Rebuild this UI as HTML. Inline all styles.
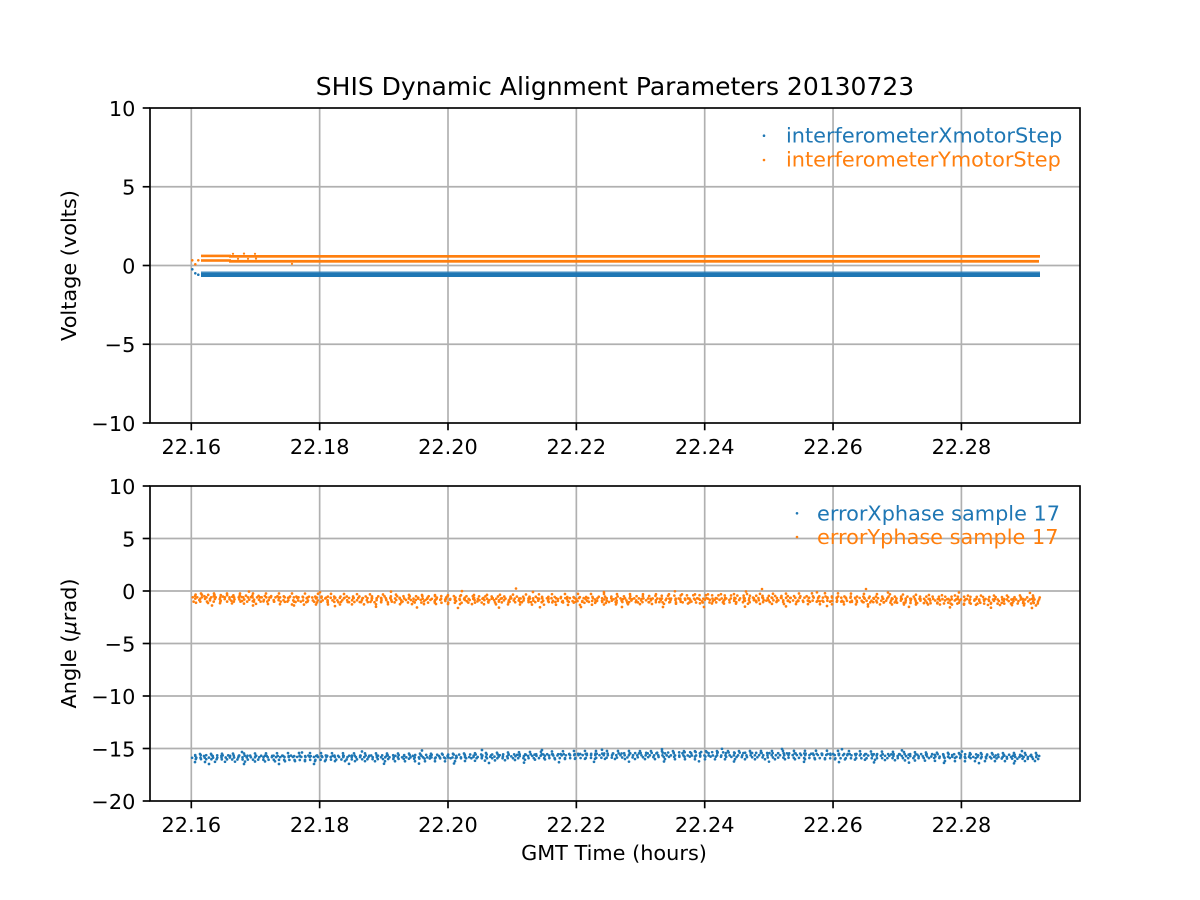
<!DOCTYPE html>
<html>
<head>
<meta charset="utf-8">
<style>
html,body{margin:0;padding:0;background:#fff;}
svg{display:block;}
text{font-family:"DejaVu Sans","Liberation Sans",sans-serif;}
</style>
</head>
<body>
<svg width="1200" height="900" viewBox="0 0 1200 900" xmlns="http://www.w3.org/2000/svg">
<rect width="1200" height="900" fill="#fff"/>

<!-- Title -->
<text x="615" y="95" font-size="25" text-anchor="middle" fill="#000">SHIS Dynamic Alignment Parameters 20130723</text>

<!-- ===== TOP AXES ===== -->
<g stroke="#b0b0b0" stroke-width="1.67">
  <line x1="191.3" y1="108" x2="191.3" y2="423"/>
  <line x1="319.65" y1="108" x2="319.65" y2="423"/>
  <line x1="448" y1="108" x2="448" y2="423"/>
  <line x1="576.35" y1="108" x2="576.35" y2="423"/>
  <line x1="704.7" y1="108" x2="704.7" y2="423"/>
  <line x1="833.05" y1="108" x2="833.05" y2="423"/>
  <line x1="961.4" y1="108" x2="961.4" y2="423"/>
  <line x1="150" y1="186.75" x2="1080" y2="186.75"/>
  <line x1="150" y1="265.5" x2="1080" y2="265.5"/>
  <line x1="150" y1="344.25" x2="1080" y2="344.25"/>
</g>

<!-- top data -->
<g fill="#ff7f0e">
  <circle cx="192.3" cy="260.3" r="1.3"/>
  <circle cx="195.3" cy="264.3" r="1.3"/>
  <circle cx="198.3" cy="260.3" r="1.3"/>
  <rect x="201" y="254.6" width="30" height="2.6"/>
  <rect x="229" y="255" width="811" height="2.7"/>
  <rect x="201" y="259.2" width="30" height="2.6"/>
  <rect x="229" y="259.9" width="810" height="2.8"/>
  <circle cx="233" cy="253.8" r="1.1"/>
  <circle cx="244" cy="253.6" r="1.1"/>
  <circle cx="255" cy="253.8" r="1.1"/>
  <circle cx="238" cy="258.8" r="1.1"/>
  <circle cx="248" cy="258.8" r="1.1"/>
  <circle cx="256" cy="258.6" r="1.1"/>
  <circle cx="292" cy="263.8" r="1.1"/>
</g>
<g fill="#1f77b4">
  <circle cx="192.3" cy="269.3" r="1.3"/>
  <circle cx="195.3" cy="273.3" r="1.3"/>
  <circle cx="198.3" cy="274.7" r="1.3"/>
  <rect x="201" y="272.4" width="839" height="4.6"/>
  <rect x="201" y="271.3" width="839" height="1.2" opacity="0.6"/>
</g>

<!-- top spines -->
<rect x="150" y="108" width="930" height="315" fill="none" stroke="#000" stroke-width="1.67"/>
<!-- top ticks -->
<g stroke="#000" stroke-width="1.67">
  <line x1="142.7" y1="108" x2="150" y2="108"/>
  <line x1="142.7" y1="186.75" x2="150" y2="186.75"/>
  <line x1="142.7" y1="265.5" x2="150" y2="265.5"/>
  <line x1="142.7" y1="344.25" x2="150" y2="344.25"/>
  <line x1="142.7" y1="423" x2="150" y2="423"/>
  <line x1="191.3" y1="423" x2="191.3" y2="430.3"/>
  <line x1="319.65" y1="423" x2="319.65" y2="430.3"/>
  <line x1="448" y1="423" x2="448" y2="430.3"/>
  <line x1="576.35" y1="423" x2="576.35" y2="430.3"/>
  <line x1="704.7" y1="423" x2="704.7" y2="430.3"/>
  <line x1="833.05" y1="423" x2="833.05" y2="430.3"/>
  <line x1="961.4" y1="423" x2="961.4" y2="430.3"/>
</g>
<g font-size="20.83" fill="#000" text-anchor="end">
  <text x="135.4" y="115.8">10</text>
  <text x="135.4" y="194.5">5</text>
  <text x="135.4" y="273.3">0</text>
  <text x="135.4" y="352">−5</text>
  <text x="135.4" y="430.8">−10</text>
</g>
<g font-size="20.83" fill="#000" text-anchor="middle">
  <text x="191.3" y="454">22.16</text>
  <text x="319.65" y="454">22.18</text>
  <text x="448" y="454">22.20</text>
  <text x="576.35" y="454">22.22</text>
  <text x="704.7" y="454">22.24</text>
  <text x="833.05" y="454">22.26</text>
  <text x="961.4" y="454">22.28</text>
</g>
<text transform="translate(76,265.5) rotate(-90)" font-size="20.83" text-anchor="middle" fill="#000">Voltage (volts)</text>

<!-- top legend -->
<circle cx="764" cy="135.7" r="1.3" fill="#1f77b4"/>
<circle cx="764" cy="160" r="1.3" fill="#ff7f0e"/>
<text x="786" y="142.7" font-size="20.83" fill="#1f77b4">interferometerXmotorStep</text>
<text x="786" y="166.7" font-size="20.83" fill="#ff7f0e">interferometerYmotorStep</text>

<!-- ===== BOTTOM AXES ===== -->
<g stroke="#b0b0b0" stroke-width="1.67">
  <line x1="191.3" y1="486" x2="191.3" y2="801"/>
  <line x1="319.65" y1="486" x2="319.65" y2="801"/>
  <line x1="448" y1="486" x2="448" y2="801"/>
  <line x1="576.35" y1="486" x2="576.35" y2="801"/>
  <line x1="704.7" y1="486" x2="704.7" y2="801"/>
  <line x1="833.05" y1="486" x2="833.05" y2="801"/>
  <line x1="961.4" y1="486" x2="961.4" y2="801"/>
  <line x1="150" y1="538.5" x2="1080" y2="538.5"/>
  <line x1="150" y1="591" x2="1080" y2="591"/>
  <line x1="150" y1="643.5" x2="1080" y2="643.5"/>
  <line x1="150" y1="696" x2="1080" y2="696"/>
  <line x1="150" y1="748.5" x2="1080" y2="748.5"/>
</g>

<!-- bottom orange scatter -->
<g fill="none" stroke="#ff7f0e" stroke-width="2.7" stroke-linecap="round">
  <path d="M191 590.5 L300 592.5 L450 591 L576 592.5 L700 591 L830 592.5 L960 592.5 L1040 593" stroke-dasharray="0 71" stroke-dashoffset="13"/>
  <path d="M191 593.5 L300 593.5 L450 595.3 L576 593.9 L700 594.4 L830 593.2 L960 595.6 L1040 595.5" stroke-dasharray="0 13" stroke-dashoffset="3"/>
  <path d="M191 594.5 L300 596.7 L450 596.1 L576 597.1 L700 595.2 L830 596.5 L960 596.7 L1040 597.5" stroke-dasharray="0 6.3" stroke-dashoffset="1.7"/>
  <path d="M191 597.3 L300 597.4 L450 599 L576 598.1 L700 598.7 L830 597.5 L960 599.4 L1040 599.5" stroke-dasharray="0 4.6" stroke-dashoffset="2.9"/>
  <path d="M191 598.6 L300 600.5 L450 599.8 L576 601.1 L700 599.7 L830 600.8 L960 600.5 L1040 601.5" stroke-dasharray="0 4.9" stroke-dashoffset="0.6"/>
  <path d="M191 601.6 L300 601.6 L450 602.8 L576 601.8 L700 602.5 L830 601.7 L960 603.7 L1040 603.5" stroke-dasharray="0 6.7" stroke-dashoffset="4.1"/>
  <path d="M191 602.7 L300 604.6 L450 604 L576 604.9 L700 603.4 L830 604.3 L960 604.6 L1040 605.5" stroke-dasharray="0 12" stroke-dashoffset="7"/>
  <path d="M191 605.5 L300 605.5 L450 608 L576 607 L700 607 L830 606 L960 607.5 L1040 608" stroke-dasharray="0 41" stroke-dashoffset="20"/>
  <path d="M191 596 L320 598.5 L450 597.5 L600 599.5 L760 597.5 L900 599 L1040 599" stroke-dasharray="0 9.3" stroke-dashoffset="5.2"/>
  <path d="M191 600 L320 602.5 L450 601 L600 603 L760 600.5 L900 602.5 L1040 603" stroke-dasharray="0 10.7" stroke-dashoffset="2.4"/>
</g>
<g fill="#ff7f0e">
  <circle cx="516" cy="588.5" r="1.3"/>
  <circle cx="762" cy="589" r="1.3"/>
  <circle cx="866" cy="589" r="1.3"/>
</g>

<!-- bottom blue scatter -->
<g fill="none" stroke="#1f77b4" stroke-width="2.7" stroke-linecap="round">
  <path d="M191 751.5 L300 752.5 L450 750 L576 750 L700 748.8 L830 749 L960 751.5 L1040 751" stroke-dasharray="0 60" stroke-dashoffset="9"/>
  <path d="M191 754 L300 753 L450 753.8 L576 750.9 L700 751.2 L830 750.7 L960 753.1 L1040 753" stroke-dasharray="0 11" stroke-dashoffset="2"/>
  <path d="M191 755 L300 756.2 L450 754.6 L576 754.1 L700 752 L830 754 L960 754.2 L1040 755" stroke-dasharray="0 5.5" stroke-dashoffset="1.3"/>
  <path d="M191 757.8 L300 756.9 L450 757.5 L576 755.1 L700 755.5 L830 755 L960 756.9 L1040 757" stroke-dasharray="0 4.2" stroke-dashoffset="3.1"/>
  <path d="M191 759.1 L300 760 L450 758.3 L576 758.1 L700 756.5 L830 758.3 L960 758 L1040 759" stroke-dasharray="0 5.2" stroke-dashoffset="0.4"/>
  <path d="M191 762.1 L300 761.1 L450 761.3 L576 758.8 L700 759.3 L830 759.2 L960 761.2 L1040 761" stroke-dasharray="0 10" stroke-dashoffset="6"/>
  <path d="M191 764 L300 764 L450 763.5 L576 762 L700 761.3 L830 762 L960 763 L1040 763.5" stroke-dasharray="0 35" stroke-dashoffset="17"/>
  <path d="M191 756 L320 755.5 L450 756 L600 753.5 L760 753 L900 754.5 L1040 756" stroke-dasharray="0 8.7" stroke-dashoffset="4.4"/>
</g>

<!-- bottom spines -->
<rect x="150" y="486" width="930" height="315" fill="none" stroke="#000" stroke-width="1.67"/>
<g stroke="#000" stroke-width="1.67">
  <line x1="142.7" y1="486" x2="150" y2="486"/>
  <line x1="142.7" y1="538.5" x2="150" y2="538.5"/>
  <line x1="142.7" y1="591" x2="150" y2="591"/>
  <line x1="142.7" y1="643.5" x2="150" y2="643.5"/>
  <line x1="142.7" y1="696" x2="150" y2="696"/>
  <line x1="142.7" y1="748.5" x2="150" y2="748.5"/>
  <line x1="142.7" y1="801" x2="150" y2="801"/>
  <line x1="191.3" y1="801" x2="191.3" y2="808.3"/>
  <line x1="319.65" y1="801" x2="319.65" y2="808.3"/>
  <line x1="448" y1="801" x2="448" y2="808.3"/>
  <line x1="576.35" y1="801" x2="576.35" y2="808.3"/>
  <line x1="704.7" y1="801" x2="704.7" y2="808.3"/>
  <line x1="833.05" y1="801" x2="833.05" y2="808.3"/>
  <line x1="961.4" y1="801" x2="961.4" y2="808.3"/>
</g>
<g font-size="20.83" fill="#000" text-anchor="end">
  <text x="135.4" y="493.8">10</text>
  <text x="135.4" y="546.3">5</text>
  <text x="135.4" y="598.8">0</text>
  <text x="135.4" y="651.3">−5</text>
  <text x="135.4" y="703.8">−10</text>
  <text x="135.4" y="756.3">−15</text>
  <text x="135.4" y="808.8">−20</text>
</g>
<g font-size="20.83" fill="#000" text-anchor="middle">
  <text x="191.3" y="832">22.16</text>
  <text x="319.65" y="832">22.18</text>
  <text x="448" y="832">22.20</text>
  <text x="576.35" y="832">22.22</text>
  <text x="704.7" y="832">22.24</text>
  <text x="833.05" y="832">22.26</text>
  <text x="961.4" y="832">22.28</text>
</g>
<text transform="translate(76,643.5) rotate(-90)" font-size="20.83" text-anchor="middle" fill="#000">Angle (<tspan font-style="italic">μ</tspan>rad)</text>
<text x="614" y="860" font-size="20.83" text-anchor="middle" fill="#000">GMT Time (hours)</text>

<!-- bottom legend -->
<circle cx="797" cy="513.3" r="1.3" fill="#1f77b4"/>
<circle cx="797" cy="537" r="1.3" fill="#ff7f0e"/>
<text x="817" y="520.7" font-size="20.83" fill="#1f77b4">errorXphase sample 17</text>
<text x="817" y="544" font-size="20.83" fill="#ff7f0e">errorYphase sample 17</text>
</svg>
</body>
</html>
